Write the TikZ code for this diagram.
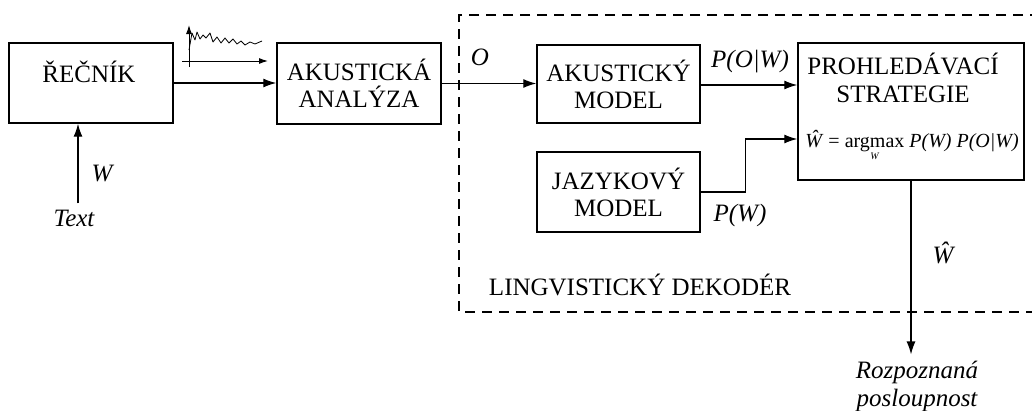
\documentclass[tikz,border=0pt]{standalone}
\usepackage{fontspec}
\setmainfont{Liberation Serif}
\usetikzlibrary{arrows.meta}
\begin{document}
\begin{tikzpicture}[x=1pt,y=-1pt,
  box/.style={draw, line width=1.4pt, inner sep=0pt, align=center,
    font=\fontsize{25}{27}\selectfont},
  txt/.style={inner sep=0pt, align=center, font=\fontsize{25}{28}\selectfont},
  lbl/.style={inner sep=0pt, align=center, font=\fontsize{25}{28}\selectfont\itshape},
  arr/.style={line width=1.3pt, -{Latex[length=13pt,width=9pt]}},
  sig/.style={line width=1pt, -{Latex[length=9pt,width=6pt]}}]
\useasboundingbox (0,0) rectangle (1032,410);

% decoder frame (open on the right)
\draw[line width=1.3pt, dash pattern=on 10pt off 7pt]
  (1040,15) -- (459,15) -- (459,312) -- (1040,312);
\node[txt] (decoder) at (640,285) {LINGVISTICKÝ DEKODÉR};

% blocks
\node[box, minimum width=164pt, minimum height=80pt] (rec) at (91,83) {};
\node[txt] (rectext) at (89,72) {ŘEČNÍK};
\node[box, minimum width=164pt, minimum height=81pt] (ana) at (359,83.5) {AKUSTICKÁ\\ANALÝZA};
\node[box, minimum width=163pt, minimum height=78pt] (akm) at (618.5,84) {AKUSTICKÝ\\MODEL};
\node[box, minimum width=163pt, minimum height=80pt] (jaz) at (618.5,192) {JAZYKOVÝ\\MODEL};
\node[box, minimum width=226pt, minimum height=137pt] (pro) at (911,111.5) {};
\node[txt] (protext) at (903,78) {PROHLEDÁVACÍ\\STRATEGIE};
\node[inner sep=0pt, anchor=base, font=\fontsize{20}{20}\selectfont] (formula) at (912,147)
  {\textit{Ŵ} = \begin{tabular}[t]{@{}c@{}}argmax\\[-8pt]{\fontsize{10}{10}\selectfont\itshape W}\end{tabular} \textit{P(W) P(O|W)}};

% inputs and outputs
\node[lbl] (text) at (74,218) {Text};
\node[lbl] (out) at (917,386) {Rozpoznaná\\posloupnost};

% connectors
\draw[arr] ([xshift=4pt,yshift=6pt]text.north) -- ([xshift=-13pt]rec.south);
\node[lbl] (wlab) at (102,173) {W};
\draw[arr] (rec.east) -- (rec.east -| ana.west);
\draw[arr] (ana.east) -- (ana.east -| akm.west);
\node[lbl] (olab) at (480,57) {O};
\draw[arr] ([yshift=-1pt]akm.east) -- ([yshift=-1pt]akm.east -| pro.west);
\node[lbl] (polab) at (750,62) {P(O|W)};
\draw[arr] (jaz.east) -- ++(45,0) |- ([yshift=-27.5pt]pro.west);
\node[lbl] (pwlab) at (740,215) {P(W)};
\draw[arr] (pro.south) -- ([yshift=6pt]pro.south |- out.north);
\node[lbl] (whlab) at (943,253) {Ŵ};

% speech signal sketch
\draw[sig] (182,61) -- (268,61);
\draw[sig] (189,67) -- (189,25);
\draw[line width=0.8pt, line join=round]
  (189,50) -- (192,33) -- (195,40) -- (197,32) -- (200,39) -- (203,35) -- (206,38)
  -- (210,33) -- (213,42) -- (217,37) -- (221,43) -- (225,38) -- (229,43) -- (233,39)
  -- (237,44) -- (241,41) -- (245,45) -- (250,42) -- (255,44) -- (262,41);
\end{tikzpicture}
\end{document}
